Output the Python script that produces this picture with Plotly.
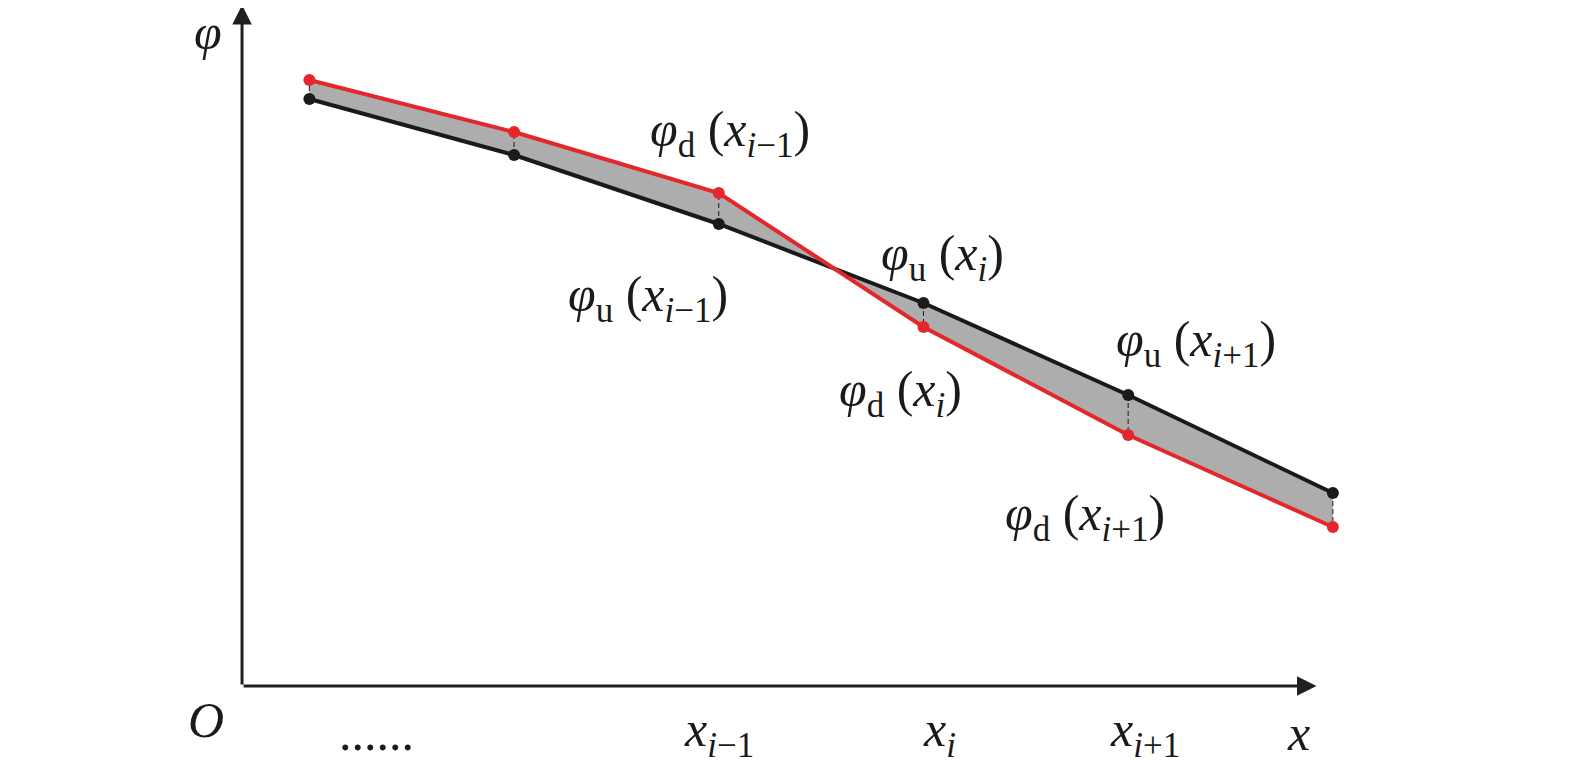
import plotly.graph_objects as go

# ── data (node index along x, φ values) ─────────────────────────────────────
NODES  = [1, 2, 3, 4, 5, 6]
PHI_U  = [5.87, 5.31, 4.62, 3.83, 2.91, 1.93]   # black curve
PHI_D  = [6.06, 5.54, 4.93, 3.59, 2.51, 1.59]   # red curve

TICK_TEXT = ["......", "<i>x</i><sub><i>i</i>−1</sub>", "<i>x</i><sub><i>i</i></sub>",
             "<i>x</i><sub><i>i</i>+1</sub>", "<i>x</i>"]
TICK_POS  = [1.33, 3.0, 4.08, 5.08, 5.83]

LABELS = [
    ("<i>φ</i><sub>d</sub> (<i>x</i><sub><i>i</i>−1</sub>)", 3.055, 5.53),
    ("<i>φ</i><sub>u</sub> (<i>x</i><sub><i>i</i>−1</sub>)", 2.654, 3.88),
    ("<i>φ</i><sub>u</sub> (<i>x</i><sub><i>i</i></sub>)",   4.095, 4.29),
    ("<i>φ</i><sub>d</sub> (<i>x</i><sub><i>i</i></sub>)",   3.89,  2.93),
    ("<i>φ</i><sub>u</sub> (<i>x</i><sub><i>i</i>+1</sub>)", 5.33,  3.43),
    ("<i>φ</i><sub>d</sub> (<i>x</i><sub><i>i</i>+1</sub>)", 4.79,  1.69),
]

COLORS = {
    "black": "#1a1a1a",
    "red"  : "#e5262b",
    "fill" : "#adadad",
    "axis" : "#231f20",
}
FONT = "Liberation Serif"

X_ORIGIN, X_TIP = 0.671, 5.92
Y_ORIGIN, Y_TIP = 0.0, 6.81

fig = go.Figure()

# shaded band between the two curves
fig.add_trace(go.Scatter(x=NODES, y=PHI_U, mode="lines",
                         line=dict(width=0, color=COLORS["fill"]), hoverinfo="skip"))
fig.add_trace(go.Scatter(x=NODES, y=PHI_D, mode="lines", fill="tonexty",
                         fillcolor=COLORS["fill"],
                         line=dict(width=0, color=COLORS["fill"]), hoverinfo="skip"))

# dashed connectors
dx, dy = [], []
for n, u, d in zip(NODES, PHI_U, PHI_D):
    dx += [n, n, None]
    dy += [u, d, None]
fig.add_trace(go.Scatter(x=dx, y=dy, mode="lines",
                         line=dict(color=COLORS["black"], width=1, dash="5px,3px")))

fig.add_trace(go.Scatter(x=NODES, y=PHI_U, mode="lines+markers",
                         line=dict(color=COLORS["black"], width=4),
                         marker=dict(color=COLORS["black"], size=12)))
fig.add_trace(go.Scatter(x=NODES, y=PHI_D, mode="lines+markers",
                         line=dict(color=COLORS["red"], width=4),
                         marker=dict(color=COLORS["red"], size=12)))

# axes with arrows
arrow = dict(showarrow=True, arrowhead=2, arrowwidth=3, arrowsize=1.3,
             arrowcolor=COLORS["axis"], text="", axref="x", ayref="y",
             xref="x", yref="y", standoff=0, startstandoff=0)
fig.add_annotation(x=X_TIP, y=Y_ORIGIN, ax=X_ORIGIN, ay=Y_ORIGIN, **arrow)
fig.add_annotation(x=X_ORIGIN, y=Y_TIP, ax=X_ORIGIN, ay=Y_ORIGIN, **arrow)

txt = dict(showarrow=False, xref="x", yref="y", xanchor="center", yanchor="middle",
           font=dict(family=FONT, size=50, color=COLORS["black"]))
for t, x, y in LABELS:
    fig.add_annotation(text=t, x=x, y=y, **txt)
for t, x in zip(TICK_TEXT, TICK_POS):
    fig.add_annotation(text=t, x=x, y=-0.47, **txt)
fig.add_annotation(text="<i>φ</i>", x=0.504, y=6.54, **txt)
fig.add_annotation(text="<i>O</i>", x=0.494, y=-0.34, **txt)

# ranges offset by the page's 8px body margin
fig.update_layout(
    width=1575, height=774,
    margin=dict(t=0, b=0, l=0, r=0),
    plot_bgcolor="white", paper_bgcolor="white",
    showlegend=False,
    xaxis=dict(range=[-0.4724, 7.222], visible=False, fixedrange=True),
    yaxis=dict(range=[-0.96, 6.78], visible=False, fixedrange=True),
)

fig.write_html("out.html")
